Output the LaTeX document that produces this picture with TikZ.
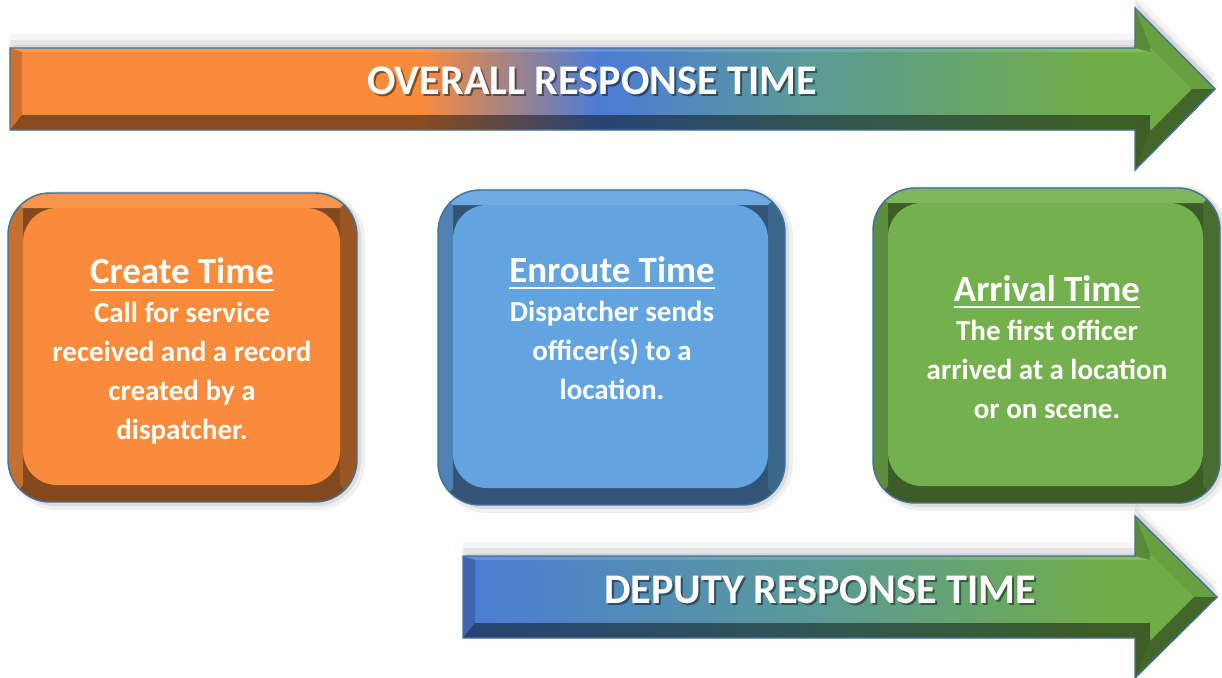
\documentclass[tikz,border=0pt]{standalone}
\usepackage{fontspec}
\setmainfont{Carlito}
\usetikzlibrary{positioning}
\usetikzlibrary{calc}

\definecolor{cardorange}{HTML}{F98B3A}
\definecolor{cardblue}{HTML}{62A4E0}
\definecolor{cardgreen}{HTML}{74B04D}
\definecolor{rimblue}{HTML}{41719C}
\definecolor{barorange}{HTML}{F98B3A}
\definecolor{barblue}{HTML}{4A7CD6}
\definecolor{barteal}{HTML}{5A9A98}
\definecolor{bargreen}{HTML}{70AD47}

\pgfdeclarehorizontalshading{overallfill}{100bp}{color(0bp)=(barorange); color(42bp)=(barorange); color(49.5bp)=(barblue); color(58bp)=(barteal); color(70bp)=(bargreen); color(100bp)=(bargreen)}
\pgfdeclarehorizontalshading{deputyfill}{100bp}{color(0bp)=(barblue); color(25bp)=(barblue); color(48bp)=(barteal); color(68bp)=(bargreen); color(100bp)=(bargreen)}

\newcommand{\headline}[1]{\setbox0\hbox{#1}\rlap{\rule[-2pt]{\wd0}{0.6pt}}\box0}

% big arrow with bevelled rim: left x, head x, tip x, middle y, shading
\newcommand{\bevelarrow}[5]{
\coordinate (A) at (#1,{#4+0.41});
\coordinate (B) at (#2,{#4+0.41});
\coordinate (C) at (#2,{#4+0.81});
\coordinate (D) at (#3,#4);
\coordinate (E) at (#2,{#4-0.81});
\coordinate (F) at (#2,{#4-0.41});
\coordinate (G) at (#1,{#4-0.41});
\coordinate (A') at ({#1+0.12},{#4+0.37});
\coordinate (B') at ({#2+0.15},{#4+0.37});
\coordinate (C') at ({#2+0.15},{#4+#3-#2-0.38});
\coordinate (D') at ({#3-0.23},#4);
\coordinate (E') at ({#2+0.15},{#4-#3+#2+0.38});
\coordinate (F') at ({#2+0.15},{#4-0.26});
\coordinate (G') at ({#1+0.12},{#4-0.26});
\fill[black,opacity=.04,transform canvas={yshift=1.4mm}] (A)--(B)--(C)--(D)--(E)--(F)--(G)--cycle;
\fill[black,opacity=.06,transform canvas={yshift=0.8mm}] (A)--(B)--(C)--(D)--(E)--(F)--(G)--cycle;
\fill[black,opacity=.06,transform canvas={xshift=0.3mm,yshift=0.3mm}] (A)--(B)--(C)--(D)--(E)--(F)--(G)--cycle;
\shade[shading=#5] (A)--(B)--(C)--(D)--(E)--(F)--(G)--cycle;
\fill[white,opacity=.15] (A)--(B)--(B')--(A')--cycle;
\fill[black,opacity=.18] (A)--(A')--(G')--(G)--cycle;
\fill[black,opacity=.45] (G)--(G')--(F')--(F)--cycle;
\fill[black,opacity=.2] (B)--(B')--(C')--(C)--cycle;
\fill[black,opacity=.08] (C)--(C')--(D')--(D)--cycle;
\fill[black,opacity=.4] (D)--(D')--(E')--(E)--cycle;
\fill[black,opacity=.45] (E)--(E')--(F')--(F)--cycle;
\draw[rimblue,line width=0.4pt] (A)--(B)--(C)--(D)--(E)--(F)--(G)--cycle;
}

% rounded card with bevelled rim: x0, y0, x1, y1, colour
\newcommand{\bevelbox}[5]{
\fill[black,opacity=.06,rounded corners=0.48cm] ({#1+0.01},{#2-0.08}) rectangle ({#3+0.08},{#4+0.02});
\fill[black,opacity=.08,rounded corners=0.45cm] ({#1+0.02},{#2-0.04}) rectangle ({#3+0.04},{#4+0.01});
\begin{scope}
\clip[rounded corners=0.42cm] (#1,#2) rectangle (#3,#4);
\fill[#5!52!black] (#1,#2) rectangle (#3,#4);
\fill[#5!80!black] (#1,#2)--({#1+0.15},{#2+0.17})--({#1+0.15},{#4-0.15})--(#1,#4)--cycle;
\fill[#5!92!white] (#1,#4)--({#1+0.15},{#4-0.15})--({#3-0.17},{#4-0.15})--(#3,#4)--cycle;
\fill[#5!62!black] (#3,#4)--({#3-0.17},{#4-0.15})--({#3-0.17},{#2+0.17})--(#3,#2)--cycle;
\end{scope}
\draw[rimblue,line width=0.4pt,rounded corners=0.42cm] (#1,#2) rectangle (#3,#4);
\fill[#5,rounded corners=0.34cm] ({#1+0.15},{#2+0.17}) rectangle ({#3-0.17},{#4-0.15});
}

\tikzset{
bartext/.style={text=white,font=\bfseries\fontsize{12}{14}\selectfont},
barshadow/.style={text=black,opacity=.45,font=\bfseries\fontsize{12}{14}\selectfont},
cardtext/.style={text=white,align=center,font=\bfseries\fontsize{8.25}{11.1}\selectfont},
}

\begin{document}
\begin{tikzpicture}
\fill[white] (0,0) rectangle (12.22,6.77);
\useasboundingbox (0,0) rectangle (12.22,6.77);

\bevelarrow{0.10}{11.35}{12.15}{5.88}{overallfill}
\bevelarrow{4.63}{11.35}{12.17}{0.80}{deputyfill}

\bevelbox{0.08}{1.75}{3.57}{4.84}{cardorange}
\bevelbox{4.38}{1.72}{7.85}{4.87}{cardblue}
\bevelbox{8.73}{1.74}{12.20}{4.89}{cardgreen}

\node[barshadow](overallshadow) at (5.94,5.94){OVERALL RESPONSE TIME};
\node[bartext](overall) at (5.92,5.96){OVERALL RESPONSE TIME};
\node[barshadow](deputyshadow) at (8.22,0.85){DEPUTY RESPONSE TIME};
\node[bartext](deputy) at (8.20,0.87){DEPUTY RESPONSE TIME};

\node[cardtext](create) at (1.82,3.26){{\fontsize{10.5}{12}\selectfont\headline{Create Time}}\\Call for service\\received and a record\\created by a\\dispatcher.};
\node[cardtext](enroute) at (6.12,3.49){{\fontsize{10.5}{12}\selectfont\headline{Enroute Time}}\\Dispatcher sends\\officer(s) to a\\location.};
\node[cardtext](arrival) at (10.47,3.30){{\fontsize{10.5}{12}\selectfont\headline{Arrival Time}}\\The first officer\\arrived at a location\\or on scene.};
\end{tikzpicture}
\end{document}
